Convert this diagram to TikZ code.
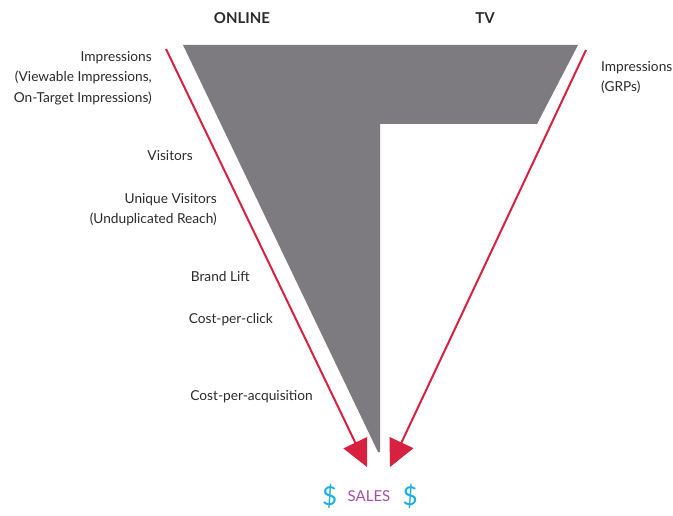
\documentclass[tikz,border=0pt]{standalone}
\usepackage{fontspec}
\setmainfont{Lato}
\usetikzlibrary{positioning, arrows.meta, calc}
\definecolor{fungray}{HTML}{7D7B80}
\definecolor{funred}{HTML}{D8213F}
\definecolor{funcyan}{HTML}{1FAEE0}
\definecolor{funpurple}{HTML}{A24EA8}
\definecolor{funtext}{HTML}{2B2B2B}

\begin{document}
\begin{tikzpicture}[x=1pt, y=-1pt,
    metric/.style={text=funtext, font=\fontsize{13.7}{20.5}\selectfont, inner sep=0pt},
    head/.style={text=funtext, font=\fontsize{15}{17}\selectfont\bfseries, inner sep=0pt},
    flow/.style={draw=funred, line width=2pt, -{Triangle[length=27pt, width=26pt]}}]
        \useasboundingbox (0,0) rectangle (673,516);
        % funnel shape
        \fill[fungray] (183,45) -- (578,45) -- (537,124) -- (380,124) -- (380,452) -- (378,452) -- cycle;
        \node[head] (online) at (242,18) {ONLINE};
        \node[head] (tv) at (485,18) {TV};
        % online metrics
        \node[metric, anchor=north east, align=right] (impr) at (152,51) {Impressions\\(Viewable Impressions,\\On-Target Impressions)};
        \node[metric, anchor=east] (visitors) at (193,156) {Visitors};
        \node[metric, anchor=north east, align=right] (unique) at (217,193) {Unique Visitors\\(Unduplicated Reach)};
        \node[metric, anchor=east] (brand) at (250,277) {Brand Lift};
        \node[metric, anchor=east] (cpc) at (273,320) {Cost-per-click};
        \node[metric, anchor=east] (cpa) at (313,397) {Cost-per-acquisition};
        % tv metrics
        \node[metric, anchor=north west, align=left] (grp) at (601,61) {Impressions\\(GRPs)};
        % sales
        \node[text=funpurple, font=\fontsize{15}{17}\selectfont, inner sep=0pt] (sales) at (369,496) {SALES};
        \node[text=funcyan, font=\fontsize{26}{28}\selectfont, inner sep=0pt, left=10pt of sales] (dolleft) {\$};
        \node[text=funcyan, font=\fontsize{26}{28}\selectfont, inner sep=0pt, right=12pt of sales] (dolright) {\$};
        % arrows
        \coordinate (onlinetop) at (166,49);
        \coordinate (onlineend) at (367,467);
        \coordinate (tvtop) at (586,50);
        \coordinate (tvend) at (390,467);
        \draw[flow] (onlinetop) -- (onlineend);
        \draw[flow] (tvtop) -- (tvend);
      \end{tikzpicture}
\end{document}
